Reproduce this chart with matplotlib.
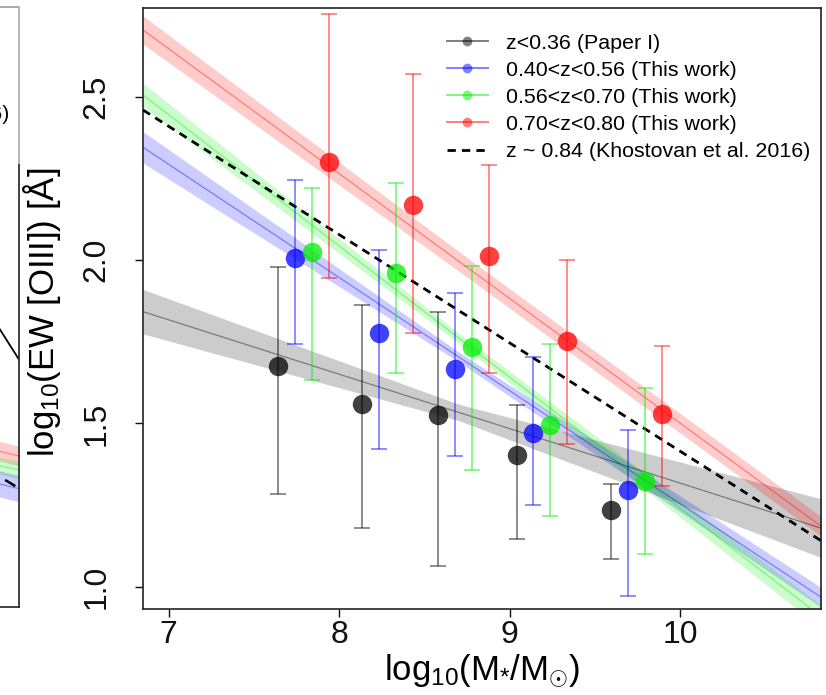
import numpy as np
import matplotlib
matplotlib.use("Agg")
import matplotlib.pyplot as plt
from matplotlib.lines import Line2D

plt.rcParams['font.family'] = ['Liberation Sans', 'DejaVu Sans']
plt.rcParams['mathtext.fontset'] = 'custom'
plt.rcParams['mathtext.rm'] = 'Liberation Sans'
plt.rcParams['mathtext.it'] = 'Liberation Sans'

# binned measurements: log mass, log EW, error bar ends
mass_grey = [7.643, 8.133, 8.578, 9.042, 9.595]
ew_grey = [1.676, 1.558, 1.526, 1.402, 1.236]
hi_grey = [1.979, 1.862, 1.842, 1.557, 1.315]
lo_grey = [1.285, 1.181, 1.063, 1.147, 1.086]

mass_blue = [7.743, 8.234, 8.680, 9.139, 9.693]
ew_blue = [2.005, 1.777, 1.666, 1.470, 1.297]
hi_blue = [2.245, 2.032, 1.899, 1.704, 1.481]
lo_blue = [1.744, 1.422, 1.400, 1.251, 0.971]

mass_green = [7.841, 8.332, 8.779, 9.239, 9.792]
ew_green = [2.023, 1.959, 1.735, 1.494, 1.324]
hi_green = [2.221, 2.236, 1.983, 1.743, 1.608]
lo_green = [1.633, 1.653, 1.357, 1.217, 1.099]

mass_red = [7.941, 8.432, 8.877, 9.338, 9.892]
ew_red = [2.299, 2.169, 2.012, 1.752, 1.528]
hi_red = [2.753, 2.569, 2.292, 2.000, 1.738]
lo_red = [1.944, 1.777, 1.653, 1.437, 1.309]

# fitted relations and their bands, read at three masses
fit_x = [6.85, 8.7, 10.83]
fit_grey = [1.842, 1.534, 1.179]
band_grey = [0.068, 0.025, 0.090]
fit_blue = [2.345, 1.704, 0.967]
band_blue = [0.048, 0.015, 0.030]
fit_green = [2.505, 1.762, 0.908]
band_green = [0.036, 0.015, 0.035]
fit_red = [2.704, 1.997, 1.184]
band_red = [0.043, 0.030, 0.030]

khost_x = [6.85, 10.83]
khost_y = [2.459, 1.140]

labels = ['z<0.36 (Paper I)', '0.40<z<0.56 (This work)',
          '0.56<z<0.70 (This work)', '0.70<z<0.80 (This work)']
colors = ['black', 'blue', '#00ee00', 'red']

# bits of the neighbouring panel visible at the left edge
left_line_x = [0.90, 1.0]
left_line_y = [1.823, 1.694]
left_band_x = [0.90, 1.0]
left_bands = {'red': ([1.39, 1.37], [1.45, 1.43]),
              '#00ee00': ([1.35, 1.33], [1.40, 1.385]),
              'blue': ([1.28, 1.26], [1.36, 1.34])}
left_dash_x = [0.951, 0.981]
left_dash_y = [1.325, 1.310]

W, H = 826, 695
fig = plt.figure(figsize=(W / 100, H / 100), dpi=100)

# left neighbour panel (mostly off the canvas)
axl = fig.add_axes([-0.3, (H - 607) / H, 0.3 + 19.3 / W, 600 / H])
axl.set_xlim(0, 1)
axl.set_ylim(0.938, 2.7746)
axl.set_xticks([])
axl.set_yticks([])
for s in axl.spines.values():
    s.set_color('#222222')
    s.set_linewidth(1.2)
axl.spines['top'].set_color('#999999')
for c, (lo, hi) in left_bands.items():
    axl.fill_between(left_band_x, lo, hi, color=c, alpha=0.2, lw=0)
    axl.plot(left_band_x, [(a + b) / 2 for a, b in zip(lo, hi)], color=c, alpha=0.4, lw=0.8)
axl.plot(left_line_x, left_line_y, color='black', lw=1.3)
axl.plot(left_dash_x, left_dash_y, color='black', lw=1.8)
axl.plot([1, 1], [2.297, 2.7746], color='#bbbbbb', lw=1.4, clip_on=False, zorder=5)
fig.text(9.5 / W, 1 - 114 / H, 'z ~ 0.84 (Khostovan et al. 2016)', ha='right',
         va='center', fontsize=15.4)

# main panel
ax = fig.add_axes([143.3 / W, (H - 609) / H, 677.4 / W, 601.3 / H])
ax.set_xlim(6.852, 10.825)
ax.set_ylim(0.932, 2.772)

fits = [fit_grey, fit_blue, fit_green, fit_red]
bands = [band_grey, band_blue, band_green, band_red]
for f, b, c in zip(fits, bands, colors):
    f = np.array(f)
    b = np.array(b)
    ax.fill_between(fit_x, f - b, f + b, color=c, alpha=0.2, lw=0, zorder=1)
    ax.plot(fit_x, f, color=c, alpha=0.4, lw=0.9, zorder=2)

ax.plot(khost_x, khost_y, color='black', lw=2.0, dashes=(3, 2.2), zorder=3)

series = [(mass_grey, ew_grey, lo_grey, hi_grey),
          (mass_blue, ew_blue, lo_blue, hi_blue),
          (mass_green, ew_green, lo_green, hi_green),
          (mass_red, ew_red, lo_red, hi_red)]
for (m, e, lo, hi), c in zip(series, colors):
    m = np.array(m); e = np.array(e)
    err = [e - np.array(lo), np.array(hi) - e]
    ax.errorbar(m, e, yerr=err, fmt='none', ecolor=c, alpha=0.45,
                elinewidth=1.4, capsize=6, capthick=1.4, zorder=4)
    ax.plot(m, e, 'o', color=c, alpha=0.75, ms=14, mec='none', zorder=5)

ax.set_xticks([7, 8, 9, 10])
ax.set_yticks([1.0, 1.5, 2.0, 2.5])
ax.tick_params(direction='out', length=5.8, width=1, labelsize=23, colors='#111111')
ax.tick_params(axis='x', pad=2)
ax.tick_params(axis='y', pad=17)
for t in ax.get_yticklabels():
    t.set_rotation(90)
    t.set_va('center')
for s in ax.spines.values():
    s.set_color('#222222')
    s.set_linewidth(1.2)

ax.set_xlabel(r'log$_{10}$(M$_{*}$/M$_{\odot}$)', fontsize=25)
ax.xaxis.set_label_coords(0.5, -0.072)
ax.set_ylabel(r'log$_{10}$(EW [OIII]) [Å]', fontsize=25)
ax.yaxis.set_label_coords(-0.1185, 0.493)

handles = [Line2D([], [], color=c, alpha=0.5, lw=1.4, marker='o', ms=7, mec='none')
           for c in colors]
handles.append(Line2D([], [], color='black', lw=2.0, dashes=(3, 2.2)))
leg = ax.legend(handles, labels + ['z ~ 0.84 (Khostovan et al. 2016)'],
                loc='upper left', bbox_to_anchor=(0.4483, 0.957), frameon=False,
                fontsize=15.4, borderpad=0, borderaxespad=0, labelspacing=0.38,
                handlelength=1.9, handletextpad=0.85)

fig.savefig('out.png', dpi=100)
